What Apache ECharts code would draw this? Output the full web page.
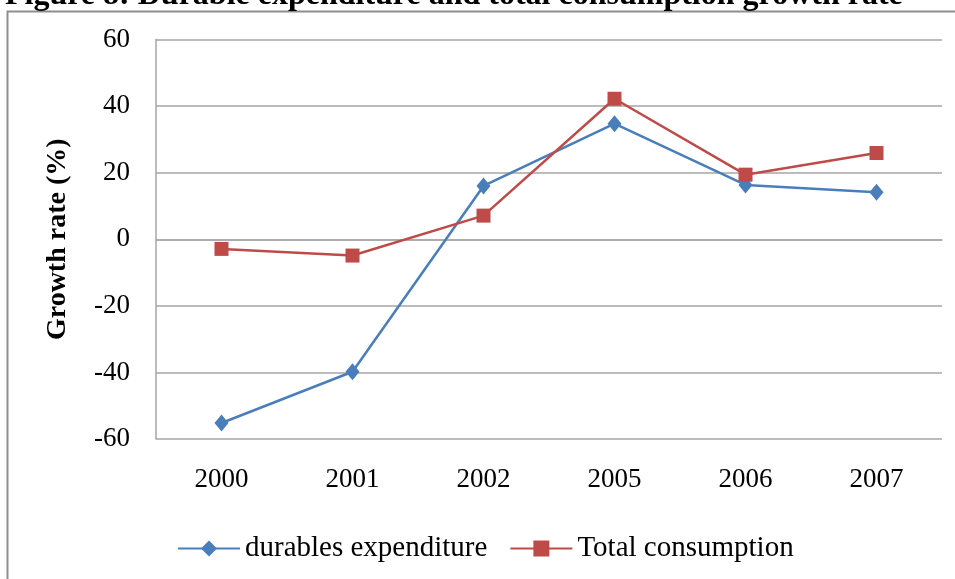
<!DOCTYPE html>
<html>
<head>
<meta charset="utf-8">
<script src="https://cdn.jsdelivr.net/npm/echarts@6/dist/echarts.min.js"></script>
<style>
  html, body { margin: 0; padding: 0; background: #fff; }
  #chart { width: 955px; height: 579px; }
</style>
</head>
<body>
<div id="chart"></div>
<script>
// Growth rates (%) by year
const years = ['2000', '2001', '2002', '2005', '2006', '2007'];
const durablesExpenditure = [-55.2, -39.8, 16.0, 34.7, 16.3, 14.1];
const totalConsumption = [-2.9, -4.9, 7.1, 42.2, 19.4, 25.9];
const yTicks = { min: -60, max: 60, interval: 20 };

const serif = '"Liberation Serif", "Times New Roman", serif';
const blue = '#4A7EBB';
const red = '#BE4B48';

const chart = echarts.init(document.getElementById('chart'), null, { renderer: 'canvas' });

chart.setOption({
  backgroundColor: '#ffffff',
  animation: false,
  graphic: [
    {
      type: 'rect',
      left: 5, top: 9,
      shape: { width: 1000, height: 620 },
      style: { fill: 'none', stroke: '#8e8e8e', lineWidth: 2 }
    },
    {
      type: 'text',
      x: 5, y: 12,
      style: {
        text: 'Figure 8: Durable expenditure and total consumption growth rate',
        font: 'bold 32px ' + serif,
        fill: '#000',
        textVerticalAlign: 'bottom'
      }
    }
  ],
  grid: { left: 156, right: 13, top: 39.5, bottom: 140, containLabel: false },
  legend: {
    bottom: 11,
    left: 172,
    itemWidth: 62,
    itemHeight: 20,
    itemGap: 22,
    textStyle: { fontFamily: serif, fontSize: 29, color: '#000' },
    data: ['durables expenditure', 'Total consumption']
  },
  xAxis: {
    type: 'category',
    data: years,
    boundaryGap: true,
    axisLine: { lineStyle: { color: '#a6a6a6', width: 1.5 } },
    axisTick: { show: false },
    axisLabel: { fontFamily: serif, fontSize: 27, color: '#000', margin: 27 }
  },
  yAxis: {
    type: 'value',
    min: yTicks.min, max: yTicks.max, interval: yTicks.interval,
    name: 'Growth rate (%)',
    nameLocation: 'middle',
    nameGap: 84,
    nameRotate: 90,
    nameTextStyle: { fontFamily: serif, fontSize: 28, fontWeight: 'bold', color: '#000' },
    axisLine: { show: true, lineStyle: { color: '#a6a6a6', width: 1.5 } },
    axisTick: { show: false },
    axisLabel: { fontFamily: serif, fontSize: 27, color: '#000', margin: 26 },
    splitLine: { lineStyle: { color: '#a6a6a6', width: 1.5 } }
  },
  series: [
    {
      name: 'durables expenditure',
      type: 'line',
      data: durablesExpenditure,
      symbol: 'diamond',
      symbolSize: [14, 17],
      lineStyle: { color: blue, width: 2.5 },
      itemStyle: { color: blue }
    },
    {
      name: 'Total consumption',
      type: 'line',
      data: totalConsumption,
      symbol: 'rect',
      symbolSize: 14,
      lineStyle: { color: red, width: 2.5 },
      itemStyle: { color: red }
    }
  ]
});
</script>
</body>
</html>
